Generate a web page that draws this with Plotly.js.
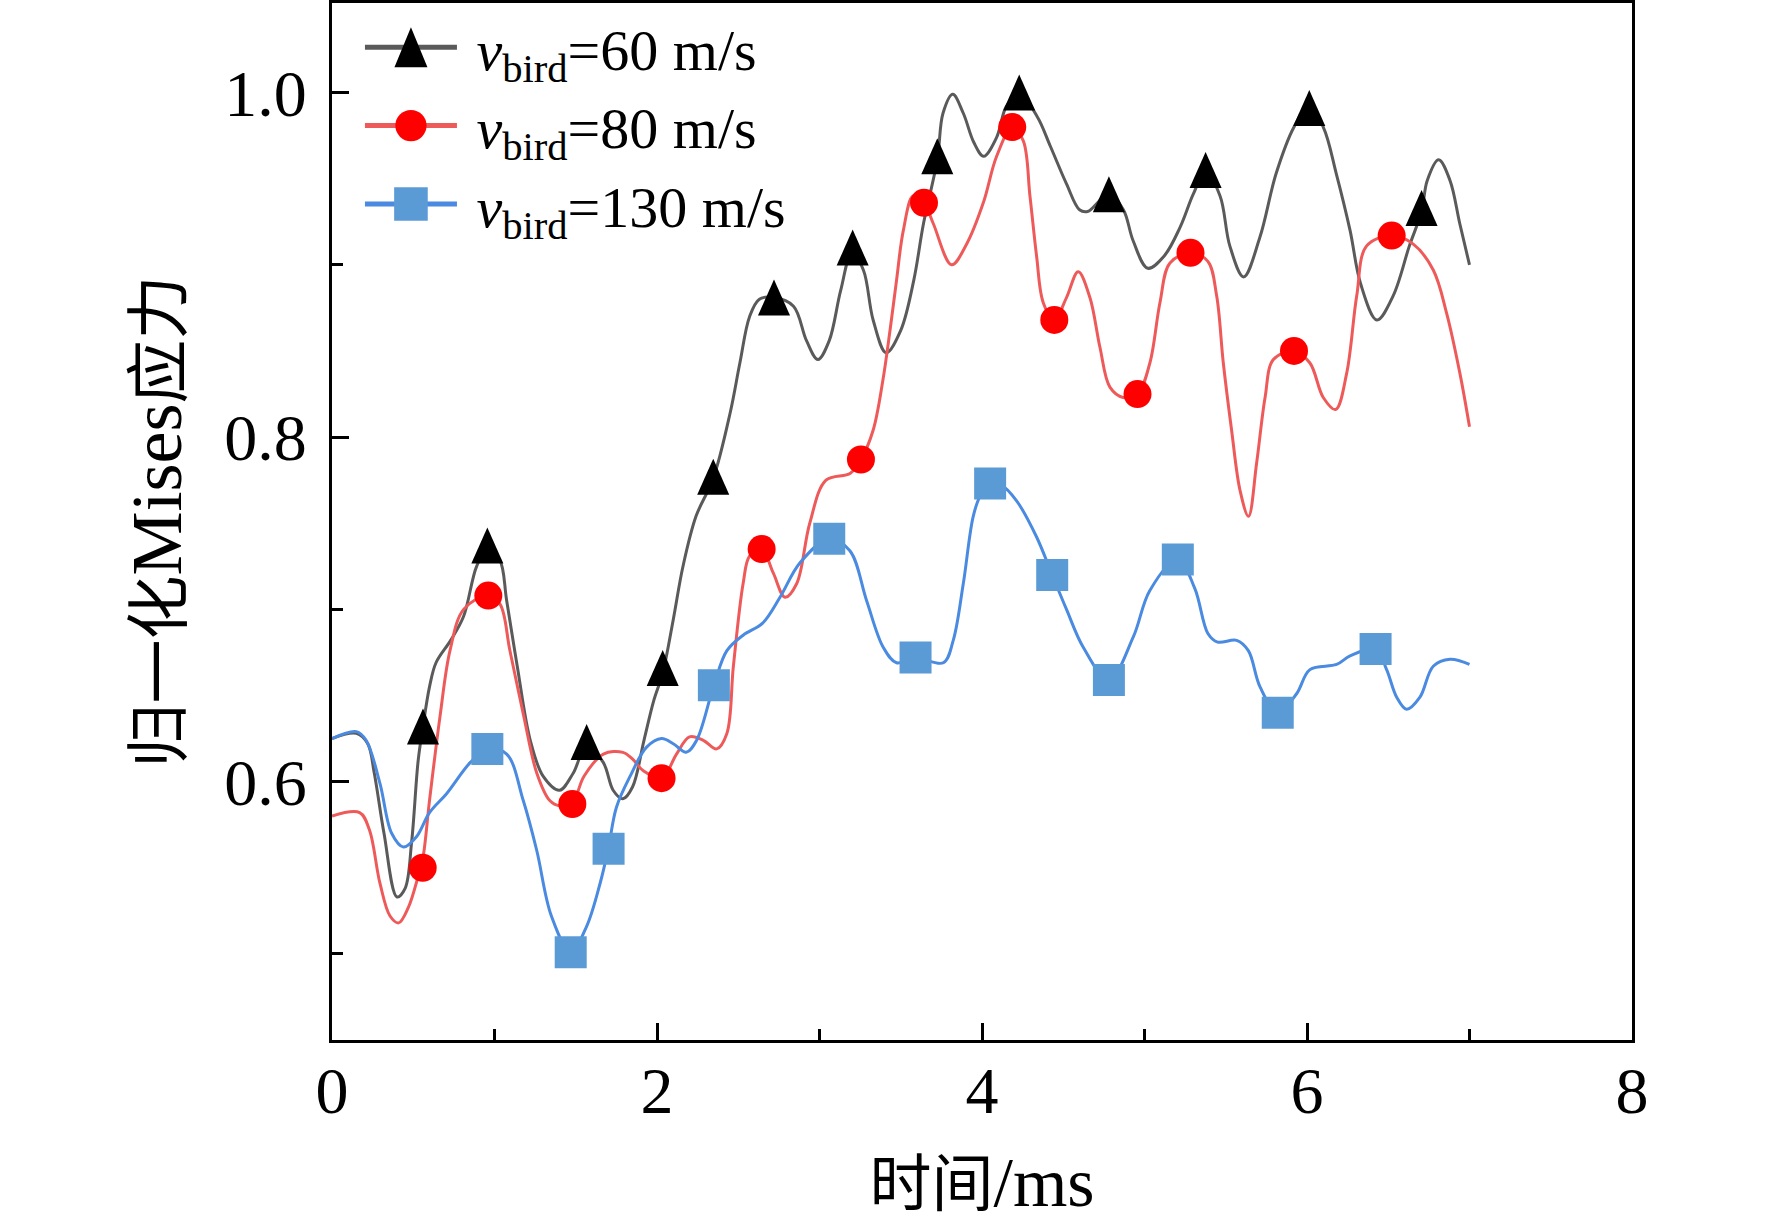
<!DOCTYPE html>
<html>
<head>
<meta charset="utf-8">
<script src="https://cdn.plot.ly/plotly-3.0.1.min.js"></script>
<style>
  html, body { margin: 0; padding: 0; background: #fff; }
  #chart { width: 1772px; height: 1221px; }
</style>
</head>
<body>
<div id="chart"></div>
<script>
// curve: time (ms) / normalised Mises stress
const t60 = [0.00, 0.15, 0.22, 0.26, 0.32, 0.40, 0.45, 0.49, 0.53, 0.56, 0.60, 0.64, 0.73, 0.81, 0.89, 0.95, 1.03, 1.075, 1.14, 1.22, 1.30, 1.40, 1.485, 1.567, 1.67, 1.73, 1.79, 1.85, 1.92, 1.98, 2.035, 2.10, 2.16, 2.24, 2.346, 2.45, 2.51, 2.57, 2.63, 2.72, 2.84, 2.92, 2.99, 3.06, 3.13, 3.20, 3.27, 3.33, 3.41, 3.50, 3.58, 3.64, 3.725, 3.76, 3.82, 3.885, 3.95, 4.01, 4.09, 4.15, 4.23, 4.34, 4.42, 4.52, 4.60, 4.65, 4.78, 4.87, 4.93, 5.02, 5.12, 5.22, 5.30, 5.375, 5.465, 5.525, 5.61, 5.71, 5.81, 5.92, 6.01, 6.10, 6.18, 6.265, 6.33, 6.43, 6.53, 6.63, 6.705, 6.74, 6.81, 6.88, 6.94, 7.00];
const s60 = [0.625, 0.628, 0.622, 0.605, 0.570, 0.533, 0.538, 0.565, 0.612, 0.632, 0.655, 0.669, 0.682, 0.696, 0.725, 0.734, 0.729, 0.705, 0.667, 0.624, 0.603, 0.595, 0.605, 0.621, 0.611, 0.595, 0.590, 0.597, 0.624, 0.647, 0.663, 0.694, 0.725, 0.754, 0.776, 0.814, 0.843, 0.870, 0.880, 0.881, 0.876, 0.856, 0.845, 0.856, 0.885, 0.907, 0.897, 0.868, 0.849, 0.862, 0.891, 0.924, 0.961, 0.988, 0.999, 0.988, 0.971, 0.963, 0.974, 0.992, 0.999, 0.986, 0.969, 0.947, 0.932, 0.931, 0.941, 0.932, 0.914, 0.898, 0.905, 0.922, 0.941, 0.954, 0.940, 0.911, 0.893, 0.916, 0.953, 0.980, 0.992, 0.980, 0.953, 0.920, 0.889, 0.868, 0.882, 0.911, 0.931, 0.949, 0.961, 0.949, 0.924, 0.900];
const mt60 = [0.56, 0.956, 1.567, 2.035, 2.346, 2.72, 3.204, 3.725, 4.229, 4.781, 5.376, 6.014, 6.705];
const ms60 = [0.632, 0.737, 0.623, 0.666, 0.777, 0.881, 0.910, 0.963, 1.000, 0.941, 0.955, 0.991, 0.933];

const t80 = [0.00, 0.17, 0.23, 0.295, 0.357, 0.41, 0.47, 0.53, 0.56, 0.60, 0.665, 0.726, 0.81, 0.96, 1.034, 1.095, 1.18, 1.26, 1.34, 1.40, 1.48, 1.55, 1.67, 1.79, 1.85, 1.92, 2.03, 2.12, 2.20, 2.285, 2.367, 2.43, 2.47, 2.53, 2.57, 2.644, 2.716, 2.788, 2.86, 2.94, 3.04, 3.19, 3.255, 3.33, 3.39, 3.434, 3.474, 3.516, 3.577, 3.643, 3.70, 3.813, 3.905, 4.008, 4.09, 4.186, 4.254, 4.295, 4.336, 4.377, 4.445, 4.52, 4.592, 4.664, 4.726, 4.787, 4.869, 4.957, 5.033, 5.095, 5.156, 5.283, 5.39, 5.444, 5.485, 5.536, 5.588, 5.64, 5.69, 5.742, 5.793, 5.92, 6.018, 6.10, 6.176, 6.244, 6.306, 6.367, 6.521, 6.654, 6.777, 6.859, 6.941, 7.00];
const s80 = [0.580, 0.582, 0.572, 0.541, 0.522, 0.518, 0.527, 0.545, 0.556, 0.589, 0.638, 0.676, 0.700, 0.708, 0.703, 0.676, 0.638, 0.605, 0.589, 0.586, 0.588, 0.603, 0.616, 0.617, 0.613, 0.606, 0.602, 0.616, 0.626, 0.624, 0.619, 0.628, 0.667, 0.715, 0.731, 0.735, 0.721, 0.707, 0.715, 0.750, 0.775, 0.779, 0.787, 0.804, 0.833, 0.862, 0.891, 0.920, 0.940, 0.936, 0.924, 0.900, 0.912, 0.936, 0.963, 0.980, 0.972, 0.940, 0.905, 0.878, 0.868, 0.881, 0.896, 0.881, 0.852, 0.829, 0.823, 0.825, 0.843, 0.878, 0.901, 0.907, 0.902, 0.882, 0.843, 0.804, 0.769, 0.754, 0.785, 0.823, 0.845, 0.850, 0.843, 0.823, 0.816, 0.837, 0.882, 0.911, 0.917, 0.912, 0.897, 0.872, 0.837, 0.806];
const mt80 = [0.558, 0.962, 1.479, 2.028, 2.644, 3.255, 3.643, 4.186, 4.445, 4.957, 5.283, 5.920, 6.521];
const ms80 = [0.550, 0.708, 0.587, 0.602, 0.735, 0.787, 0.936, 0.980, 0.868, 0.825, 0.907, 0.850, 0.917];

const t130 = [0.00, 0.15, 0.21, 0.295, 0.367, 0.44, 0.52, 0.60, 0.705, 0.85, 0.956, 1.075, 1.177, 1.26, 1.35, 1.469, 1.567, 1.65, 1.70, 1.75, 1.834, 1.936, 2.028, 2.10, 2.18, 2.244, 2.35, 2.43, 2.53, 2.65, 2.757, 2.88, 3.06, 3.187, 3.29, 3.392, 3.474, 3.591, 3.762, 3.823, 3.885, 3.946, 3.99, 4.05, 4.12, 4.213, 4.336, 4.432, 4.52, 4.623, 4.781, 4.931, 5.033, 5.205, 5.31, 5.39, 5.45, 5.567, 5.639, 5.711, 5.82, 5.936, 6.018, 6.182, 6.265, 6.422, 6.49, 6.552, 6.613, 6.695, 6.777, 6.88, 7.00];
const s130 = [0.625, 0.629, 0.624, 0.599, 0.570, 0.562, 0.568, 0.582, 0.593, 0.611, 0.619, 0.616, 0.589, 0.560, 0.522, 0.501, 0.516, 0.541, 0.561, 0.585, 0.603, 0.620, 0.625, 0.622, 0.617, 0.624, 0.656, 0.676, 0.685, 0.692, 0.707, 0.727, 0.741, 0.734, 0.705, 0.678, 0.669, 0.672, 0.669, 0.682, 0.715, 0.754, 0.766, 0.772, 0.772, 0.763, 0.742, 0.720, 0.700, 0.678, 0.659, 0.684, 0.711, 0.729, 0.712, 0.686, 0.681, 0.682, 0.676, 0.655, 0.640, 0.651, 0.665, 0.668, 0.673, 0.677, 0.665, 0.649, 0.642, 0.649, 0.667, 0.671, 0.668];
const mt130 = [0.956, 1.469, 1.702, 2.350, 3.060, 3.591, 4.05, 4.432, 4.781, 5.205, 5.820, 6.422];
const ms130 = [0.619, 0.501, 0.561, 0.656, 0.741, 0.672, 0.773, 0.720, 0.659, 0.729, 0.640, 0.677];

const names = ['<i>v</i><sub>bird</sub>=60 m/s', '<i>v</i><sub>bird</sub>=80 m/s', '<i>v</i><sub>bird</sub>=130 m/s'];

const FONT = 'Liberation Serif, "Noto Sans CJK SC", serif';

const series = [
    { t: t60, s: s60, mt: mt60, ms: ms60, line: '#5a5a5a', mark: '#000000', symbol: 'triangle-up', size: 30 },
    { t: t80, s: s80, mt: mt80, ms: ms80, line: '#ee5a5a', mark: '#ff0000', symbol: 'circle', size: 28 },
    { t: t130, s: s130, mt: mt130, ms: ms130, line: '#4a8ae0', mark: '#5b9bd5', symbol: 'square', size: 32 }
];

const data = [];
// curves
series.forEach((sr, i) => {
    data.push({
        x: sr.t, y: sr.s, mode: 'lines', showlegend: false, legendgroup: 'g' + i,
        line: { color: sr.line, width: 3, shape: 'spline', smoothing: 1 }
    });
});
// symbols
series.forEach((sr, i) => {
    data.push({
        x: sr.mt, y: sr.ms, mode: 'markers', showlegend: false, legendgroup: 'g' + i,
        marker: { symbol: sr.symbol, size: sr.size, color: sr.mark, line: { width: 0 } }
    });
});
// legend entries only
series.forEach((sr, i) => {
    data.push({
        x: [null], y: [null], mode: 'lines+markers', name: '\u00a0' + names[i], legendgroup: 'g' + i,
        line: { color: sr.line, width: 3 },
        marker: { symbol: sr.symbol, size: 12, color: sr.mark, line: { width: 0 } }
    });
});

const axisCommon = {
    ticks: 'inside', ticklen: 17, tickwidth: 3, tickcolor: '#000',
    showline: true, linewidth: 3, linecolor: '#000', mirror: true,
    showgrid: false, zeroline: false,
    tickfont: { family: FONT, size: 66, color: '#000' }
};

const layout = {
    width: 1772, height: 1221,
    margin: { l: 332, r: 140, t: 3, b: 181 },
    paper_bgcolor: '#fff', plot_bgcolor: '#fff',
    font: { family: FONT, color: '#000', size: 58 },
    xaxis: Object.assign({}, axisCommon, {
        range: [0, 8], tick0: 0, dtick: 2,
        ticklabelstandoff: -9,
        minor: { dtick: 1, ticks: 'inside', ticklen: 11, tickwidth: 3, tickcolor: '#000', showgrid: false },
        title: { text: '<span style="font-size:62px">时间</span>/ms', font: { family: FONT, size: 70 }, standoff: 44 }
    }),
    yaxis: Object.assign({}, axisCommon, {
        range: [0.45, 1.052], tick0: 0, dtick: 0.2, tickformat: '.1f',
        ticklabelstandoff: 9,
        minor: { dtick: 0.1, ticks: 'inside', ticklen: 11, tickwidth: 3, tickcolor: '#000', showgrid: false },
        title: { text: '<span style="font-size:64px">归一化</span>Mises<span style="font-size:64px">应力</span>', font: { family: FONT, size: 72 }, standoff: 20 }
    }),
    showlegend: true,
    legend: {
        x: 0.0215, y: 1.0, xanchor: 'left', yanchor: 'top',
        bgcolor: 'rgba(0,0,0,0)', borderwidth: 0,
        font: { family: FONT, size: 58, color: '#000' },
        itemwidth: 92, itemsizing: 'constant', tracegroupgap: 0
    }
};

Plotly.newPlot('chart', data, layout, { staticPlot: true }).then(gd => {
    // the original triangles are taller than plotly's
    const traces = gd.querySelectorAll('.scatterlayer .trace');
    traces[3].querySelectorAll('path.point').forEach(p => {
        p.setAttribute('transform', p.getAttribute('transform') + ' translate(0,6) scale(0.925,1.6)');
    });
    // bigger symbols in the legend
    const legendScale = ['translate(0,6.7) scale(2.38,4.44)', 'scale(2.6)', 'scale(2.8)'];
    gd.querySelectorAll('.legend .traces').forEach((g, i) => {
        g.querySelectorAll('path.scatterpts').forEach(p => {
            p.setAttribute('transform', (p.getAttribute('transform') || '') + ' ' + legendScale[i]);
        });
    });
});
</script>
</body>
</html>
